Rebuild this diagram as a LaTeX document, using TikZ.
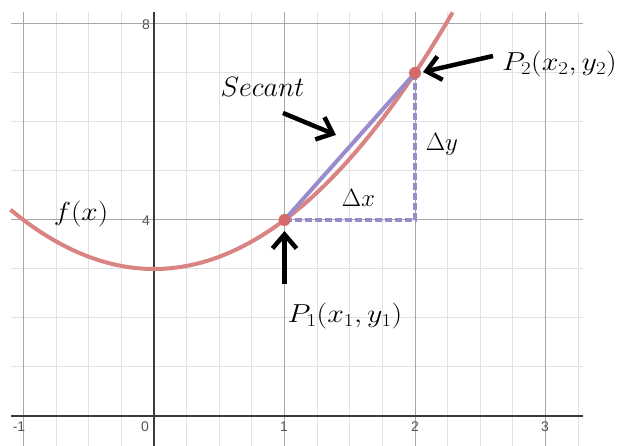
\RequirePackage{fix-cm}
\documentclass[tikz,border=0pt]{standalone}
\usepackage{fontspec}
\newfontfamily\tickfont{Liberation Sans}[Scale=1.0]
\newcommand\ticktxt[1]{{\tickfont\fontsize{14pt}{16pt}\selectfont #1}}
\usetikzlibrary{arrows.meta}
\definecolor{curvered}{HTML}{D98383}
\definecolor{dotred}{HTML}{D46A6A}
\definecolor{secpurple}{HTML}{9A8BCB}
\definecolor{minorgrid}{HTML}{E2E2E2}
\definecolor{majorgrid}{HTML}{A8A8A8}
\definecolor{axisgray}{HTML}{3A3A3A}
\definecolor{ticktext}{HTML}{555555}
\tikzset{
  minorline/.style={draw=minorgrid, line width=1pt},
  majorline/.style={draw=majorgrid, line width=1pt},
  axisline/.style={draw=axisgray, line width=2pt},
  ticklabel/.style={inner sep=0pt, text=ticktext},
  mathlabel/.style={inner sep=0pt, font=\fontsize{25}{29}\selectfont},
  pointer/.style={draw=black, line width=4.5pt, -{Straight Barb[length=14pt,width=24pt]}},
  dotmark/.style={circle, fill=dotred, inner sep=0pt, minimum size=12pt},
}
\begin{document}
\begin{tikzpicture}[x=1pt,y=-1pt]
\useasboundingbox (0,0) rectangle (625,446);
\fill[white] (0,0) rectangle (625,446);
% minor grid
\foreach \k in {-3,-2,-1,1,2,3,5,6,7,9,10,11,13}{
  \draw[minorline] ({154+32.625*\k},12) -- ({154+32.625*\k},446);
}
\foreach \j in {1,2,3,5,6,7}{
  \draw[minorline] (11,{416-49*\j}) -- (583,{416-49*\j});
}
% major grid
\foreach \k in {-4,4,8,12}{
  \draw[majorline] ({154+32.625*\k},12) -- ({154+32.625*\k},446);
}
\foreach \j in {4,8}{
  \draw[majorline] (11,{416-49*\j}) -- (583,{416-49*\j});
}
% axes
\draw[axisline] (154,12) -- (154,446);
\draw[axisline] (11,416) -- (583,416);
% tick labels
\node[ticklabel, anchor=east] (t8) at (150,24.5) {\ticktxt{8}};
\node[ticklabel, anchor=east] (t4) at (150,220.5) {\ticktxt{4}};
\node[ticklabel] (tm1) at (19,427) {\ticktxt{-1}};
\node[ticklabel] (t0) at (145,427) {\ticktxt{0}};
\node[ticklabel] (t1) at (284,427) {\ticktxt{1}};
\node[ticklabel] (t2) at (415,427) {\ticktxt{2}};
\node[ticklabel] (t3) at (545,427) {\ticktxt{3}};
% curve f(x)=x^2+3
\draw[curvered, line width=4pt] plot[domain=-1.1:2.29, samples=120, smooth] ({154+130.5*\x},{416-49*(\x*\x+3)});
% points
\coordinate (P1) at (284.5,220);
\coordinate (P2) at (415,73);
\coordinate (C) at (415,220);
% secant and increments
\draw[secpurple, line width=4pt] (P1) -- (P2);
\draw[secpurple, line width=3.5pt, dash pattern=on 7pt off 3pt] (P1) -- (C) -- (P2);
\node[dotmark] (d1) at (P1) {};
\node[dotmark] (d2) at (P2) {};
% labels
\node[mathlabel, font=\fontsize{28}{32}\selectfont, anchor=base] (sec) at (262.5,97) {$Secant$};
\node[mathlabel, font=\fontsize{26}{30}\selectfont] (fx) at (81,214) {\scalebox{1.13}[1]{$f(x)$}};
\node[mathlabel, anchor=base] (dx) at (358.5,207) {$\Delta x$};
\node[mathlabel, anchor=base] (dy) at (442,151) {$\Delta y$};
\node[mathlabel, font=\fontsize{26}{30}\selectfont] (p2l) at (559.5,63.7) {\scalebox{1.15}[1]{$P_2(x_2,y_2)$}};
\node[mathlabel, font=\fontsize{26}{30}\selectfont] (p1l) at (345,316) {\scalebox{1.15}[1]{$P_1(x_1,y_1)$}};
% pointers
\coordinate (a2s) at (493,56);
\coordinate (a2e) at (423,72);
\coordinate (ass) at (283,113);
\coordinate (ase) at (336,135);
\coordinate (a1s) at (284.5,284);
\coordinate (a1e) at (284.5,231);
\draw[pointer] (a2s) -- (a2e);
\draw[pointer] (ass) -- (ase);
\draw[pointer] (a1s) -- (a1e);
\end{tikzpicture}
\end{document}
